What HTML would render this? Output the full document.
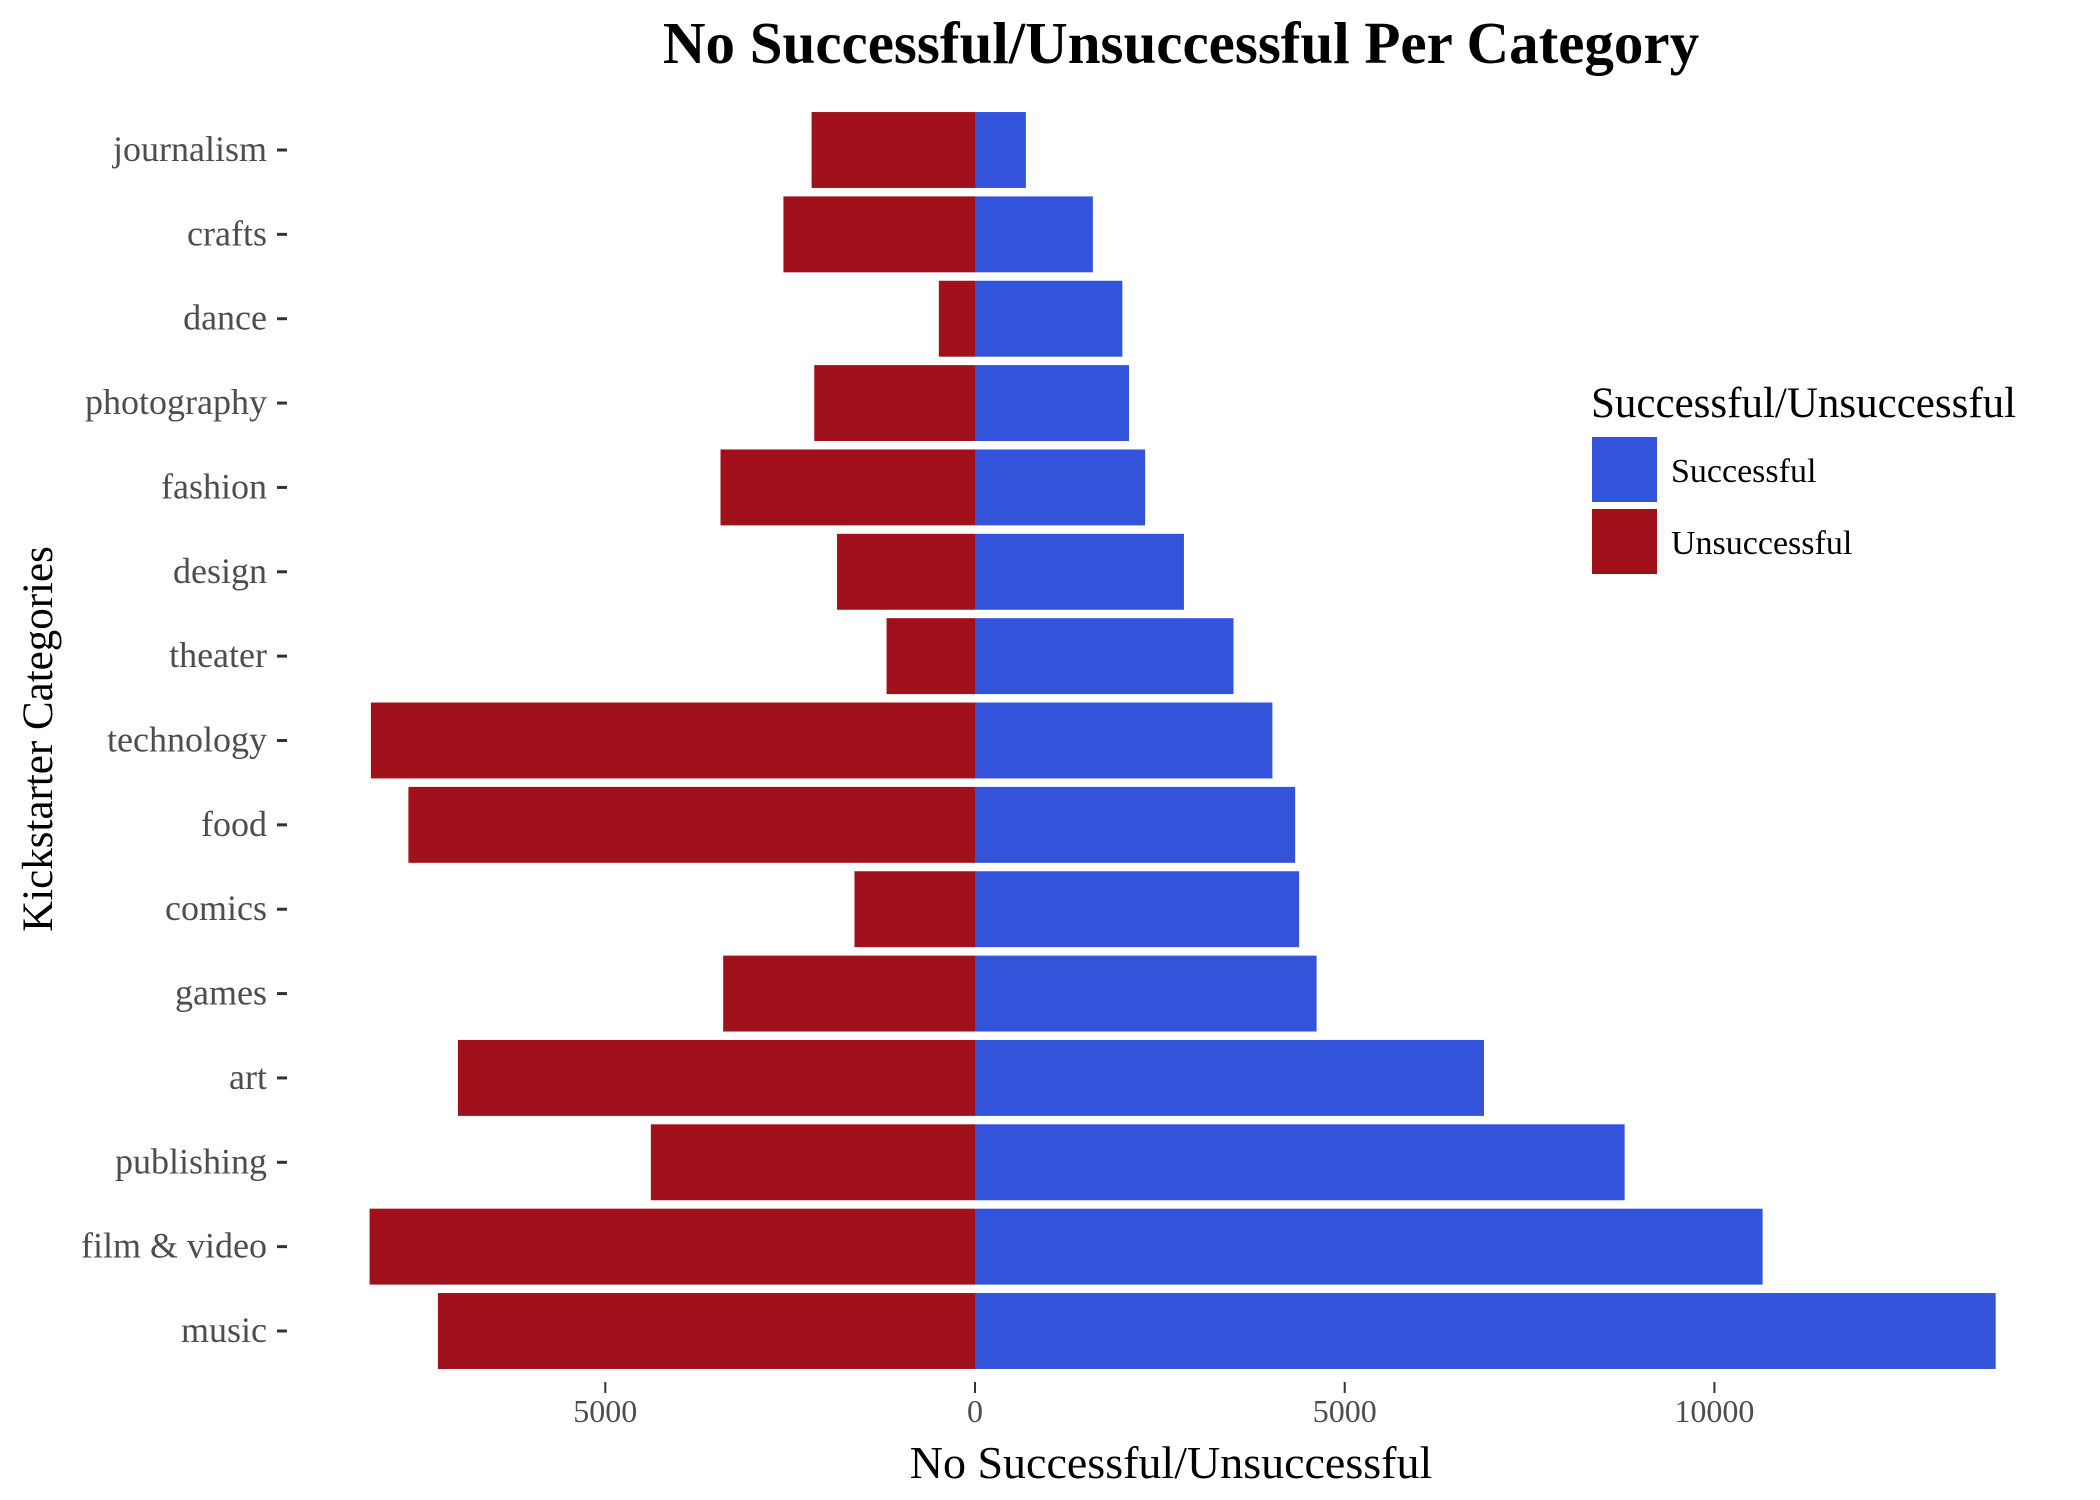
<!DOCTYPE html>
<html><head><meta charset="utf-8"><style>
html,body{margin:0;padding:0;background:#fff;}
svg{display:block;font-family:"Liberation Serif",serif;}
</style></head><body>
<svg id="chart" width="2100" height="1500" viewBox="0 0 2100 1500" xmlns="http://www.w3.org/2000/svg">
<text x="1181" y="63" text-anchor="middle" font-size="59" font-weight="bold" fill="#000">No Successful/Unsuccessful Per Category</text>
<text transform="translate(52,739) rotate(-90)" text-anchor="middle" font-size="43" fill="#000">Kickstarter Categories</text>
<text x="1171" y="1478" text-anchor="middle" font-size="46" fill="#000">No Successful/Unsuccessful</text>
<g id="bars"></g>
<g id="yaxis"></g>
<g id="xaxis"></g>
<g>
<text x="1591" y="417" font-size="43" fill="#000">Successful/Unsuccessful</text>
<rect x="1592" y="437" width="65" height="65" fill="#3353DB"/>
<text x="1671" y="482" font-size="34" fill="#000">Successful</text>
<rect x="1592" y="509" width="65" height="65" fill="#A0111B"/>
<text x="1671" y="554" font-size="34" fill="#000">Unsuccessful</text>
</g>
</svg>
<script>
const categories = ["journalism","crafts","dance","photography","fashion","design","theater","technology","food","comics","games","art","publishing","film & video","music"];
const successful = [688,1594,1993,2083,2301,2826,3496,4022,4330,4384,4620,6884,8786,10652,13804];
const unsuccessful = [2210,2591,489,2174,3442,1866,1196,8170,7663,1630,3406,6993,4384,8188,7264];
const xTicks = [-5000,0,5000,10000];
const xTickLabels = ["5000","0","5000","10000"];

const NS="http://www.w3.org/2000/svg";
const x0=975, pxPerUnit=369.7/5000;
const xScale=v=>x0+v*pxPerUnit;
const yTop=150, step=(1331-150)/(categories.length-1), bh=step*0.9;
const yScale=i=>yTop+i*step;
function mk(tag,attrs){const e=document.createElementNS(NS,tag);for(const k in attrs)e.setAttribute(k,attrs[k]);return e;}
const bars=document.getElementById('bars'), ya=document.getElementById('yaxis'), xa=document.getElementById('xaxis');
categories.forEach((c,i)=>{
  const cy=yScale(i);
  const u=mk('rect',{x:xScale(-unsuccessful[i]),y:cy-bh/2,width:xScale(0)-xScale(-unsuccessful[i]),height:bh,fill:'#A0111B'});
  
  
  bars.appendChild(u);
  const s=mk('rect',{x:xScale(0),y:cy-bh/2,width:xScale(successful[i])-xScale(0),height:bh,fill:'#3353DB'});
  
  
  bars.appendChild(s);
  const t=mk('line',{x1:277,x2:287,y1:cy,y2:cy,stroke:'#333','stroke-width':3});
  
  
  ya.appendChild(t);
  const l=mk('text',{x:267,y:cy+11,'text-anchor':'end','font-size':36,fill:'#4d4d4d'});
  l.textContent=c;
  
  
  ya.appendChild(l);
});
xTicks.forEach((v,i)=>{
  const x=xScale(v);
  const t=mk('line',{x1:x,x2:x,y1:1382,y2:1393,stroke:'#333','stroke-width':2});
  
  
  xa.appendChild(t);
  const l=mk('text',{x:x,y:1422,'text-anchor':'middle','font-size':32,fill:'#4d4d4d'});
  l.textContent=xTickLabels[i];
  
  
  xa.appendChild(l);
});
</script>
</body></html>
